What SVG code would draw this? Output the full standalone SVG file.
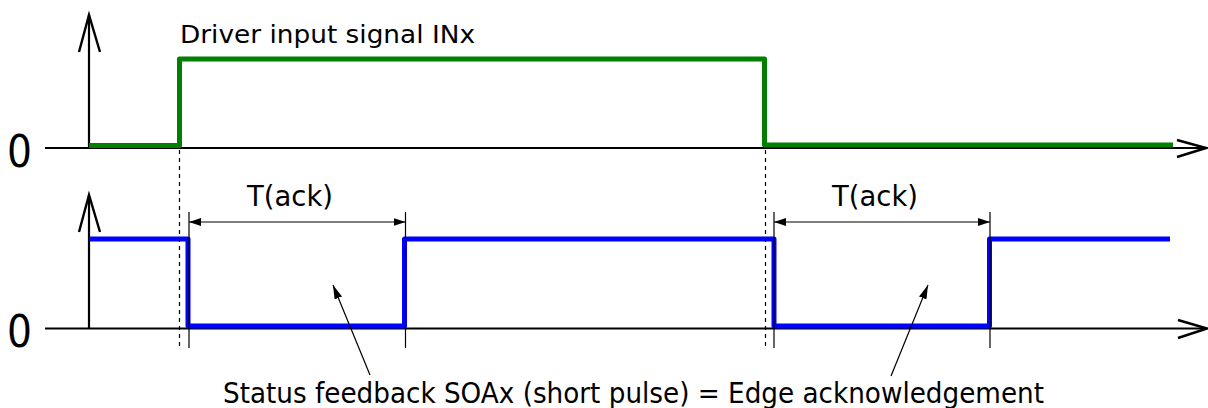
<svg xmlns="http://www.w3.org/2000/svg" width="1208" height="408" viewBox="0 0 1208 408">
  <defs>
    <marker id="dimArrow" viewBox="0 0 12 8" refX="12" refY="4" markerWidth="12" markerHeight="8" markerUnits="userSpaceOnUse" orient="auto-start-reverse">
      <path d="M0,0 L12,4 L0,8 Z" fill="#000"/>
    </marker>
    <marker id="leadArrow" viewBox="0 0 14 8" refX="14" refY="4" markerWidth="14" markerHeight="8" markerUnits="userSpaceOnUse" orient="auto">
      <path d="M0,0 L14,4 L0,8 Z" fill="#000"/>
    </marker>
  </defs>
  <style>
    .axis { stroke: #000; stroke-width: 2.2; fill: none; }
    .head { stroke: #000; stroke-width: 2.4; fill: none; stroke-linejoin: miter; }
    .thin { stroke: #000; stroke-width: 1.2; fill: none; }
    .dash { stroke: #000; stroke-width: 1.2; fill: none; stroke-dasharray: 4 4; }
    .green { stroke: #007f00; stroke-width: 5; fill: none; stroke-linejoin: round; }
    .blue { stroke: #0000ff; stroke-width: 5; fill: none; stroke-linejoin: round; }
    .lbl { font-family: "DejaVu Sans", Verdana, sans-serif; fill: #000; }
  </style>
  <rect width="1208" height="408" fill="#fff"/>

  <g id="axes">
    <path class="axis" d="M45,148 H1205"/>
    <path class="head" d="M1177,140 L1206,148 L1177,157"/>
    <path class="axis" d="M89,148 V15"/>
    <path class="head" d="M79,52 L89,15 L100,52"/>
    <path class="axis" d="M45,328.5 H1205"/>
    <path class="head" d="M1178,320 L1207,328.5 L1178,338"/>
    <path class="axis" d="M89,328.5 V195"/>
    <path class="head" d="M79,232 L89,195 L100,232"/>
    <text class="lbl" x="7" y="167" font-size="44" textLength="25" lengthAdjust="spacingAndGlyphs">0</text>
    <text class="lbl" x="7" y="347" font-size="44" textLength="25" lengthAdjust="spacingAndGlyphs">0</text>
  </g>

  <g id="signal-inx">
    <path class="green" d="M89,145.5 H179.5 V59 H764.5 V145 H1173"/>
    <text class="lbl" x="180" y="43" font-size="25" textLength="295" lengthAdjust="spacingAndGlyphs">Driver input signal INx</text>
  </g>

  <g id="signal-soax">
    <path class="blue" d="M89,239 H188 V326 H404.5 V239 H774 V326 H989.5 V239 H1170"/>
  </g>

  <g id="connectors">
    <path class="dash" d="M179.5,150 V350"/>
    <path class="dash" d="M765.5,150 V350"/>
    <path class="thin" d="M189,212 V348"/>
    <path class="thin" d="M405.5,212 V348"/>
    <path class="thin" d="M774,212 V348"/>
    <path class="thin" d="M990,212 V348"/>
    <path class="thin" d="M189,222 H405.5" marker-start="url(#dimArrow)" marker-end="url(#dimArrow)"/>
    <path class="thin" d="M774,222 H990" marker-start="url(#dimArrow)" marker-end="url(#dimArrow)"/>
    <path class="thin" d="M370,375 L333,285" marker-end="url(#leadArrow)"/>
    <path class="thin" d="M891,376 L928,285" marker-end="url(#leadArrow)"/>
  </g>

  <g id="tack-1">
    <text class="lbl" x="247" y="206" font-size="28" textLength="86" lengthAdjust="spacingAndGlyphs">T(ack)</text>
  </g>
  <g id="tack-2">
    <text class="lbl" x="832" y="206" font-size="28" textLength="86" lengthAdjust="spacingAndGlyphs">T(ack)</text>
  </g>
  <g id="caption">
    <text class="lbl" x="223" y="403" font-size="29" textLength="821" lengthAdjust="spacingAndGlyphs">Status feedback SOAx (short pulse) = Edge acknowledgement</text>
  </g>
</svg>
